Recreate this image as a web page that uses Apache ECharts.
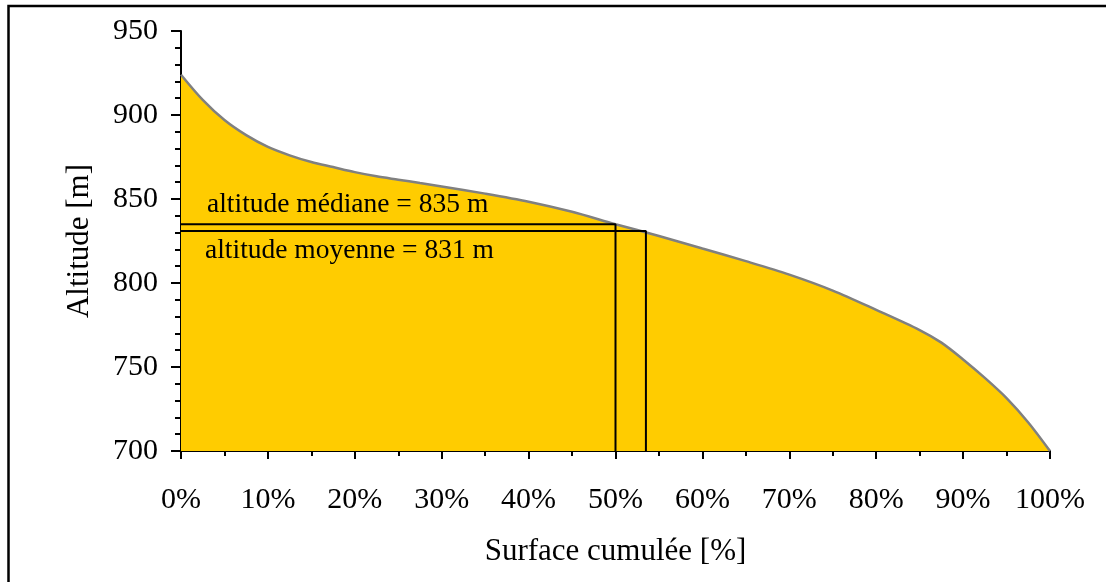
<!DOCTYPE html>
<html>
<head>
<meta charset="utf-8">
<script src="https://cdn.jsdelivr.net/npm/echarts@6/dist/echarts.min.js"></script>
<style>html,body{margin:0;padding:0;background:#fff;}#c{width:1106px;height:582px;}</style>
</head>
<body>
<div id="c"></div>
<script>
// Hypsometric curve: cumulative surface (%) vs altitude (m)
const surface = [0, 2.5, 5, 7.5, 10, 12.5, 15, 17.5, 20, 22.5, 25, 27.5, 30, 35, 40, 45, 50, 55, 60, 65, 70, 75, 80, 85, 87.5, 90, 92.5, 95, 97.5, 100];
const altitude = [924, 909, 897, 888, 881, 876, 872, 869, 866, 863.5, 861.5, 859.5, 857.5, 853.2, 848.4, 842.4, 835, 828, 820.5, 813, 805, 795.5, 784, 772, 764.5, 754.5, 743.5, 731.5, 717, 700];
const median = { surface: 50, altitude: 835 };
const mean = { surface: 53.5, altitude: 831 };
const xTicks = { min: 0, max: 100, interval: 10 };
const yTicks = { min: 700, max: 950, interval: 50 };

const FONT = 'Liberation Serif';
const curve = surface.map((s, i) => [s, altitude[i]]);
const medianPath = [[0, median.altitude], [median.surface, median.altitude], [median.surface, yTicks.min]];
const meanPath = [[0, mean.altitude], [mean.surface, mean.altitude], [mean.surface, yTicks.min]];

const chart = echarts.init(document.getElementById('c'), null, { renderer: 'canvas' });
const axisCommon = {
  axisLine: { show: true, lineStyle: { color: '#000', width: 2 } },
  splitLine: { show: false },
  minorSplitLine: { show: false },
  nameTextStyle: { color: '#000', fontFamily: FONT, fontSize: 31 },
  axisLabel: { color: '#000', fontFamily: FONT, fontSize: 30 }
};
chart.setOption({
  animation: false,
  backgroundColor: '#fff',
  grid: { left: 181, right: 56, top: 31, bottom: 131 },
  graphic: [{
    type: 'rect', z: 100,
    shape: { x: 8.5, y: 6, width: 1300, height: 800 },
    style: { fill: 'none', stroke: '#000', lineWidth: 2.5 }
  }],
  xAxis: Object.assign({}, axisCommon, {
    type: 'value', min: xTicks.min, max: xTicks.max, interval: xTicks.interval,
    name: 'Surface cumulée [%]', nameLocation: 'middle', nameGap: 85,
    axisTick: { show: true, length: 8, lineStyle: { color: '#000', width: 2 } },
    minorTick: { show: true, splitNumber: 2, length: 5, lineStyle: { color: '#000', width: 2 } },
    axisLabel: Object.assign({}, axisCommon.axisLabel, { margin: 34, formatter: '{value}%' })
  }),
  yAxis: Object.assign({}, axisCommon, {
    type: 'value', min: yTicks.min, max: yTicks.max, interval: yTicks.interval,
    name: 'Altitude [m]', nameLocation: 'middle', nameGap: 86,
    axisTick: { show: true, length: 10, lineStyle: { color: '#000', width: 2 } },
    minorTick: { show: true, splitNumber: 5, length: 6, lineStyle: { color: '#000', width: 2 } },
    axisLabel: Object.assign({}, axisCommon.axisLabel, { margin: 23 })
  }),
  series: [
    {
      type: 'line', data: curve, smooth: 0.3, symbol: 'none',
      lineStyle: { color: '#808080', width: 2.5 },
      areaStyle: { color: '#FFCC00', opacity: 1 },
      z: 2
    },
    {
      type: 'line', data: medianPath, symbol: 'none', z: 3,
      lineStyle: { color: '#000', width: 2 },
      markPoint: {
        symbol: 'circle', symbolSize: 0, silent: true,
        data: [{ coord: [0, median.altitude] }],
        label: {
          show: true, position: 'inside', align: 'left', verticalAlign: 'middle',
          offset: [26, -19], formatter: 'altitude médiane = ' + median.altitude + ' m',
          color: '#000', fontFamily: FONT, fontSize: 27.5
        }
      }
    },
    {
      type: 'line', data: meanPath, symbol: 'none', z: 3,
      lineStyle: { color: '#000', width: 2 },
      markPoint: {
        symbol: 'circle', symbolSize: 0, silent: true,
        data: [{ coord: [0, mean.altitude] }],
        label: {
          show: true, position: 'inside', align: 'left', verticalAlign: 'middle',
          offset: [24, 20], formatter: 'altitude moyenne = ' + mean.altitude + ' m',
          color: '#000', fontFamily: FONT, fontSize: 27.5
        }
      }
    }
  ]
});
</script>
</body>
</html>
